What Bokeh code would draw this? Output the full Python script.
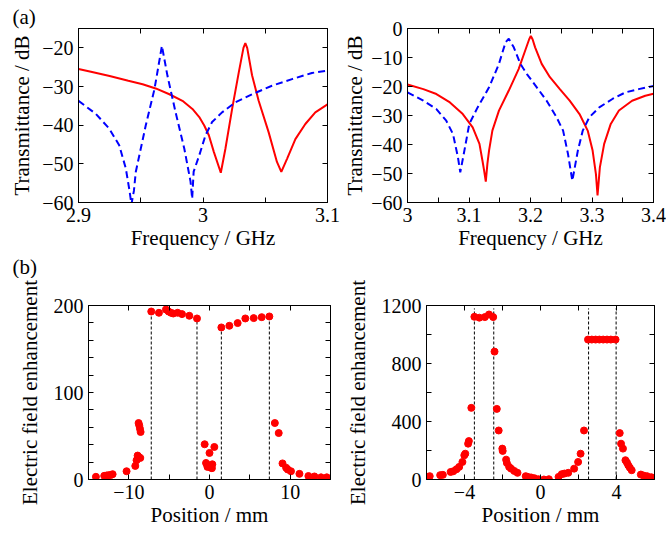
from bokeh.plotting import figure
from bokeh.models import FixedTicker, LinearAxis, Range1d, Title
from bokeh.layouts import row, column
from bokeh.embed import file_html
from bokeh.resources import INLINE

FONT = "Liberation Serif"
RED = "#ff0000"
BLUE = "#0000ff"

# ---------------- (a) left: transmittance 2.9-3.1 GHz ----------------
tl_red_f = [2.900, 2.910, 2.925, 2.940, 2.9515, 2.962, 2.973, 2.9835, 2.9915, 2.997,
            3.001, 3.0047, 3.0087, 3.0143, 3.018, 3.0234, 3.0287, 3.0325, 3.034, 3.0355,
            3.0394, 3.0447, 3.0527, 3.0594, 3.0629, 3.0675, 3.0742, 3.0822, 3.0902, 3.100]
tl_red_db = [-25.5, -26.2, -27.3, -28.5, -29.4, -30.5, -32.0, -33.7, -35.8, -37.9,
             -40.1, -42.6, -46.9, -52.3, -46.1, -35.8, -26.4, -20.0, -18.8, -20.0,
             -27.1, -33.7, -41.8, -49.5, -52.1, -48.7, -43.6, -39.7, -36.7, -34.6]
tl_blue_f = [2.900, 2.914, 2.9247, 2.9327, 2.938, 2.941, 2.9425, 2.9445, 2.946, 2.954,
             2.961, 2.967, 2.9715, 2.978, 2.985, 2.990, 2.9913, 2.9925, 2.997, 3.002,
             3.0073, 3.0153, 3.026, 3.0394, 3.0554, 3.0715, 3.0875, 3.100]
tl_blue_db = [-33.7, -37.1, -40.9, -45.2, -51.2, -57.0, -60.5, -57.0, -52.1, -40.1,
              -30.7, -19.5, -27.3, -36.7, -46.1, -54.6, -59.0, -52.0, -47.8, -42.6,
              -39.2, -36.7, -34.1, -32.0, -29.8, -28.1, -26.5, -25.9]
tl_x_ticks = [2.9, 3.0, 3.1]
tl_x_labels = ["2.9", "3", "3.1"]
tl_x_minor = [2.95, 3.05]
tl_y_ticks = [-60, -50, -40, -30, -20]
tl_y_labels = ["\u221260", "\u221250", "\u221240", "\u221230", "\u221220"]

# ---------------- (a) right: transmittance 3.0-3.4 GHz ----------------
tr_red_f = [3.000, 3.0257, 3.047, 3.069, 3.0899, 3.106, 3.117, 3.1219, 3.1246, 3.1273,
            3.1299, 3.1326, 3.138, 3.1487, 3.1647, 3.1807, 3.1914, 3.1977, 3.2005, 3.2035,
            3.2075, 3.2182, 3.2316, 3.2477, 3.2637, 3.2797, 3.293, 3.301, 3.3064, 3.309,
            3.3128, 3.3198, 3.3305, 3.3438, 3.3652, 3.3866, 3.400]
tr_red_db = [-19.3, -20.9, -22.6, -25.5, -29.5, -34.1, -39.8, -45.6, -49.0, -52.8,
             -46.7, -42.1, -35.2, -28.3, -21.4, -14.0, -7.6, -3.8, -2.6, -3.8,
             -6.5, -12.2, -16.8, -20.9, -24.9, -29.5, -35.2, -42.1, -50.2, -57.6,
             -47.9, -39.8, -32.9, -28.3, -24.9, -23.2, -22.5]
tr_blue_f = [3.000, 3.0257, 3.047, 3.063, 3.074, 3.082, 3.0858, 3.0925, 3.1005, 3.114,
             3.1326, 3.1487, 3.1594, 3.1647, 3.1728, 3.1835, 3.1941, 3.2102, 3.2262, 3.2423,
             3.253, 3.261, 3.268, 3.277, 3.285, 3.2957, 3.3118, 3.3332, 3.3546, 3.376, 3.400]
tr_blue_db = [-22.0, -24.9, -27.8, -31.8, -36.4, -44.4, -49.6, -42.1, -32.9, -27.2,
              -20.3, -12.2, -4.8, -3.5, -6.5, -12.2, -15.7, -20.3, -24.9, -30.6,
              -35.2, -43.3, -52.5, -42.1, -35.2, -30.6, -27.2, -24.3, -22.0, -20.9, -19.8]
tr_x_ticks = [3.0, 3.1, 3.2, 3.3, 3.4]
tr_x_labels = ["3", "3.1", "3.2", "3.3", "3.4"]
tr_x_minor = [3.05, 3.15, 3.25, 3.35]
tr_y_ticks = [-60, -50, -40, -30, -20, -10, 0]
tr_y_labels = ["\u221260", "\u221250", "\u221240", "\u221230", "\u221220", "\u221210", "0"]

# ---------------- (b) left: field enhancement, first mode ----------------
bl_pos = [-14.08, -13.05, -12.76, -12.51, -12.22, -12.01, -10.28, -9.20, -9.04, -8.91,
          -8.79, -8.58, -8.79, -8.71, -8.62, -8.54,
          -7.22, -6.27, -5.40, -5.07, -4.78, -4.49, -3.95, -3.41, -2.50, -1.55,
          -0.60, 0.00, 0.60, -0.43, -0.25, 0.15, 0.35, -0.30, 0.30,
          1.47, 2.46, 3.49, 4.44, 5.48, 6.47, 7.42,
          8.10, 8.58, 9.05, 9.50, 9.70, 10.10, 11.15, 12.26, 13.01, 13.83, 14.54]
bl_enh = [3.1, 4.2, 4.6, 5.0, 5.3, 6.1, 9.5, 15.6, 22.1, 27.5,
          26.0, 24.8, 64.9, 62.2, 58.4, 54.6,
          193.1, 191.6, 195.4, 193.1, 191.6, 190.8, 191.6, 190.1, 188.2, 185.1,
          40.5, 30.5, 37.4, 19.0, 14.5, 13.7, 17.5, 17.0, 13.0,
          174.8, 176.7, 179.8, 185.1, 185.5, 186.6, 187.4,
          64.9, 53.4, 18.5, 13.5, 11.5, 9.5, 6.5, 4.0, 3.5, 2.5, 2.5]
bl_bounds = [-7.22, -1.55, 1.47, 7.42]
bl_bound_tops = [193.1, 185.1, 174.8, 187.4]
bl_x_ticks = [-10, 0, 10]
bl_x_labels = ["\u221210", "0", "10"]
bl_x_minor = [-5, 5]
bl_y_ticks = [0, 100, 200]
bl_y_labels = ["0", "100", "200"]
bl_y_minor = [20, 40, 60, 80, 120, 140, 160, 180]

# ---------------- (b) right: field enhancement, second mode ----------------
br_pos = [-5.97, -5.83, -5.28, -5.14, -4.73, -4.59, -4.42, -4.28, -4.11, -4.01,
          -3.96, -3.81, -3.77, -3.64,
          -3.48, -3.22, -2.93, -2.71, -2.49,
          -2.42, -2.30, -2.20, -2.01, -1.99, -1.81, -1.77, -1.65, -1.55, -1.38,
          -1.21, -0.78, -0.66, -0.49, -0.32, -0.11,
          0.18, 0.44, 0.95, 1.12, 1.26, 1.46, 1.77, 1.98, 2.11, 2.29,
          2.50, 2.70, 2.90, 3.10, 3.30, 3.50, 3.70, 3.95,
          4.17, 4.24, 4.34, 4.47, 4.55, 4.62, 4.70, 4.80, 5.28, 5.43, 5.61, 5.83, 6.00]
br_enh = [18, 23, 30, 32, 52, 57, 71, 87, 121, 167,
          178, 247, 265, 494,
          1122, 1116, 1120, 1138, 1120,
          882, 487, 338, 213, 197, 137, 114, 87, 75, 59,
          46, 23, 18, 14, 9, 2,
          0, 2, 18, 37, 41, 46, 75, 121, 178, 338,
          965, 965, 965, 965, 965, 965, 965, 965,
          320, 247, 213, 133, 117, 98, 82, 64, 34, 27, 23, 16, 11]
br_bounds = [-3.48, -2.46, 2.53, 3.98]
br_bound_tops = [1180, 1180, 1180, 1180]
br_x_ticks = [-4, 0, 4]
br_x_labels = ["\u22124", "0", "4"]
br_x_minor = [-2, 2]
br_y_ticks = [0, 400, 800, 1200]
br_y_labels = ["0", "400", "800", "1200"]
br_y_minor = [200, 600, 1000]

# panel tags
tag_a = "(a)"
tag_b = "(b)"


def style_title(t, offset):
    t.align = "left"
    t.offset = offset
    t.standoff = 0
    t.text_font = FONT
    t.text_font_size = "21px"
    t.text_font_style = "normal"
    t.text_color = "black"


def make_fig(width, height, xr, yr, mb, xlabel, ylabel,
             xt, xl, xm, yt, yl, ym, title=None, title_offset=0, ylab_std=1):
    kw = {}
    if title is not None:
        kw["title"] = title
    p = figure(width=width, height=height, x_range=Range1d(*xr), y_range=Range1d(*yr),
               output_backend="svg", toolbar_location=None,
               min_border_left=mb[0], min_border_right=mb[1],
               min_border_top=mb[2], min_border_bottom=mb[3],
               x_axis_label=xlabel, y_axis_label=ylabel, **kw)
    if title is not None:
        style_title(p.title, title_offset)
    p.xgrid.visible = False
    p.ygrid.visible = False
    p.outline_line_color = "black"
    p.outline_line_width = 1
    p.outline_line_alpha = 1
    p.background_fill_color = "white"
    p.border_fill_color = "white"
    xtick = FixedTicker(ticks=xt, minor_ticks=xm)
    ytick = FixedTicker(ticks=yt, minor_ticks=ym)
    p.xaxis.ticker = xtick
    p.yaxis.ticker = ytick
    p.xaxis.major_label_overrides = {float(v): s for v, s in zip(xt, xl)}
    p.yaxis.major_label_overrides = {float(v): s for v, s in zip(yt, yl)}
    top = LinearAxis(ticker=xtick)
    top.major_label_overrides = {float(v): "" for v in xt}
    right = LinearAxis(ticker=ytick)
    right.major_label_overrides = {float(v): "" for v in yt}
    p.add_layout(top, "above")
    p.add_layout(right, "right")
    for ax in p.axis:
        ax.axis_line_color = "black"
        ax.major_tick_in = 5
        ax.major_tick_out = 0
        ax.minor_tick_in = 5
        ax.minor_tick_out = 0
        ax.major_tick_line_color = "black"
        ax.minor_tick_line_color = "black"
        ax.major_label_text_font = FONT
        ax.major_label_text_font_size = "20px"
        ax.major_label_text_color = "black"
        ax.axis_label_text_font = FONT
        ax.axis_label_text_font_size = "21px"
        ax.axis_label_text_font_style = "normal"
        ax.axis_label_text_color = "black"
        ax.axis_label_standoff = 1
    for ax in (top, right):
        ax.major_label_standoff = 0
        ax.major_label_text_font_size = "1px"
    p.xaxis[0].major_label_standoff = 8
    p.yaxis[0].major_label_standoff = 5
    p.yaxis[0].axis_label_standoff = ylab_std
    return p


# (a) left  -- also carries the "(b)" tag below its axis label
p1 = make_fig(340, 278, (2.9, 3.1), (-60, -15), (78, 13, 28, 75),
              "Frequency / GHz", "Transmittance / dB",
              tl_x_ticks, tl_x_labels, tl_x_minor, tl_y_ticks, tl_y_labels, [],
              title=tag_a, title_offset=-66, ylab_std=5)
p1.line(tl_red_f, tl_red_db, line_color=RED, line_width=2)
p1.line(tl_blue_f, tl_blue_db, line_color=BLUE, line_width=2, line_dash="7 4")
tb = Title(text=tag_b)
style_title(tb, -66)
p1.add_layout(tb, "below")

# (a) right
p2 = make_fig(326, 278, (3.0, 3.4), (-60, 0), (64, 13, 28, 75),
              "Frequency / GHz", "Transmittance / dB",
              tr_x_ticks, tr_x_labels, tr_x_minor, tr_y_ticks, tr_y_labels, [], ylab_std=1)
p2.line(tr_red_f, tr_red_db, line_color=RED, line_width=2)
p2.line(tr_blue_f, tr_blue_db, line_color=BLUE, line_width=2, line_dash="7 4")

# (b) left
p3 = make_fig(342, 257, (-15, 15), (0, 200), (88, 12, 27, 56),
              "Position / mm", "Electric field enhancement",
              bl_x_ticks, bl_x_labels, bl_x_minor, bl_y_ticks, bl_y_labels, bl_y_minor,
              ylab_std=9)
p3.segment(x0=bl_bounds, y0=[0] * len(bl_bounds), x1=bl_bounds, y1=bl_bound_tops,
           line_color="black", line_width=1, line_dash="3 2")
p3.scatter(bl_pos, bl_enh, marker="circle", size=7, fill_color=RED, line_color=RED)

# (b) right
p4 = make_fig(324, 257, (-6, 6), (0, 1200), (78, 12, 27, 56),
              "Position / mm", "Electric field enhancement",
              br_x_ticks, br_x_labels, br_x_minor, br_y_ticks, br_y_labels, br_y_minor,
              ylab_std=9)
p4.segment(x0=br_bounds, y0=[0] * len(br_bounds), x1=br_bounds, y1=br_bound_tops,
           line_color="black", line_width=1, line_dash="3 2")
p4.scatter(br_pos, br_enh, marker="circle", size=7, fill_color=RED, line_color=RED)

layout = column(row(p1, p2), row(p3, p4))

open("out.html", "w").write(file_html(layout, INLINE))
